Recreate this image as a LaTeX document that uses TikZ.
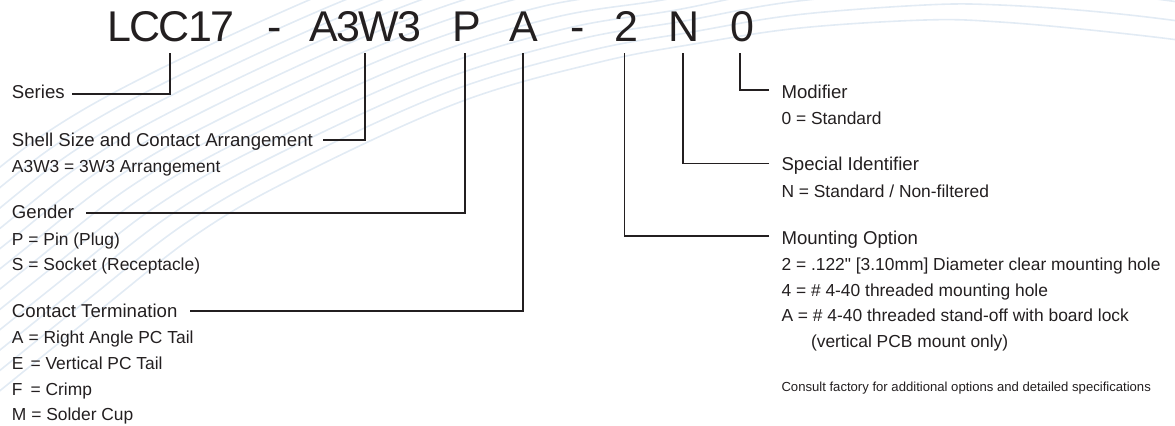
\documentclass[tikz,border=0pt]{standalone}
\usepackage{fontspec}
\setmainfont{Liberation Sans}
\newfontfamily\ttlfont[LetterSpace=-3.5]{Liberation Sans}
\newfontfamily\plainsans{Liberation Sans}
\definecolor{ink}{HTML}{231F20}
\definecolor{swoosh}{HTML}{E2EBF4}
\newcommand{\px}[1]{\kern#1\dimexpr 0.75pt\relax}
\tikzset{
  x=0.75pt,y=-0.75pt,
  lbl/.style={inner sep=0pt,outer sep=0pt,anchor=base west,text=ink},
  ttl/.style={lbl,font=\ttlfont\fontsize{32.25pt}{34pt}\selectfont},
  hd/.style={lbl,font=\fontsize{13.95pt}{16pt}\selectfont},
  sb/.style={lbl,font=\fontsize{13.05pt}{15pt}\selectfont},
  sm/.style={lbl,font=\fontsize{9.83pt}{12pt}\selectfont},
  conn/.style={draw=ink,line width=1.25pt,miter limit=10},
  bgline/.style={draw=swoosh,line width=1.2pt}
}
\begin{document}
\begin{tikzpicture}
\useasboundingbox (0,0) rectangle (1175,425);
% background swooshes
\begin{scope}
\clip (0,0) rectangle (1175,425);
\foreach \k in {0,...,11}{
  \draw[bgline] plot[smooth,tension=0.6] coordinates {
    ({-30-14*\k},{415-9*\k})
    ({100-14*\k},{310-9*\k})
    ({200-14*\k},{232-9*\k})
    ({300-13*\k},{175-9.5*\k})
    ({460-12*\k},{102-10*\k})
    ({600-12*\k},{62-11*\k})
    ({700-8*\k},{43-11*\k})
    ({800-5*\k},{28-13*\k})
    ({925},{20-15*\k})
    ({1000},{22-17*\k})
    ({1100},{31-19*\k})
    ({1200},{43-19*\k})
    ({1300},{60-19*\k})};
}
\end{scope}
% part number
\node[ttl] (tLCC) at (107,41) {LCC17};
\node[ttl] (tD1) at (267,41) {-};
\node[ttl] (tA3) at (309,41) {A3W3};
\node[ttl] (tP) at (452,41) {P};
\node[ttl] (tA) at (509,41) {A};
\node[ttl] (tD2) at (570,41) {-};
\node[ttl] (t2) at (614,41) {2};
\node[ttl] (tN) at (668,41) {N};
\node[ttl] (t0) at (730,41) {0};
% left labels
\node[hd] (series) at (12,98) {Series};
\node[hd] (shell) at (12,146) {Shell Size and Contact Arrangement};
\node[sb] at (12,172) {A3W3 = 3W3 Arrangement};
\node[hd] (gender) at (12,218.7) {Gender};
\node[sb] at (12,245.5) {P = Pin (Plug)};
\node[sb] at (12,270) {S = Socket (Receptacle)};
\node[hd] (contact) at (12,317.7) {Contact Termination};
\node[sb] at (12,343.5) {A\px{5}= Right Angle PC Tail};
\node[sb] at (12,369) {E\px{7}= Vertical PC Tail};
\node[sb] at (12,395) {F\px{8}= Crimp};
\node[sb] at (12,420.7) {M = Solder Cup};
% right labels
\node[hd] (modifier) at (781.5,98) {Modifier};
\node[sb] at (781.5,124) {0 = Standard};
\node[hd] (special) at (781.5,170.7) {Special Identifier};
\node[sb] at (781.5,197) {N = Standard / Non-filtered};
\node[hd] (mounting) at (781.5,244) {Mounting Option};
\node[sb] at (781.5,270) {2 = .122{\plainsans"} [3.10mm] Diameter clear mounting hole};
\node[sb] at (781.5,296) {4 = \# 4-40 threaded mounting hole};
\node[sb] at (781.5,321) {A = \# 4-40 threaded stand-off with board lock};
\node[sb] at (811,347) {(vertical PCB mount only)};
\node[sm] at (781.5,391) {Consult factory for additional options and detailed specifications};
% connector ends under the part number
\coordinate (eLCC) at (170,53);
\coordinate (eA3) at (365,53);
\coordinate (eP) at (465,53);
\coordinate (eA) at (523,53);
\coordinate (e2) at (624.5,53);
\coordinate (eN) at (683,53);
\coordinate (e0) at (740,53);
\coordinate (sSeries) at (72,94);
\coordinate (sShell) at (323,140);
\coordinate (sGender) at (86,212.7);
\coordinate (sContact) at (190,311);
\coordinate (sMod) at (769,90);
\coordinate (sSpec) at (769,163.5);
\coordinate (sMount) at (769,236);
\draw[conn] (sSeries) -| (eLCC);
\draw[conn] (sShell) -| (eA3);
\draw[conn] (sGender) -| (eP);
\draw[conn] (sContact) -| (eA);
\draw[conn] (sMount) -| (e2);
\draw[conn] (sSpec) -| (eN);
\draw[conn] (sMod) -| (e0);
\end{tikzpicture}
\end{document}
